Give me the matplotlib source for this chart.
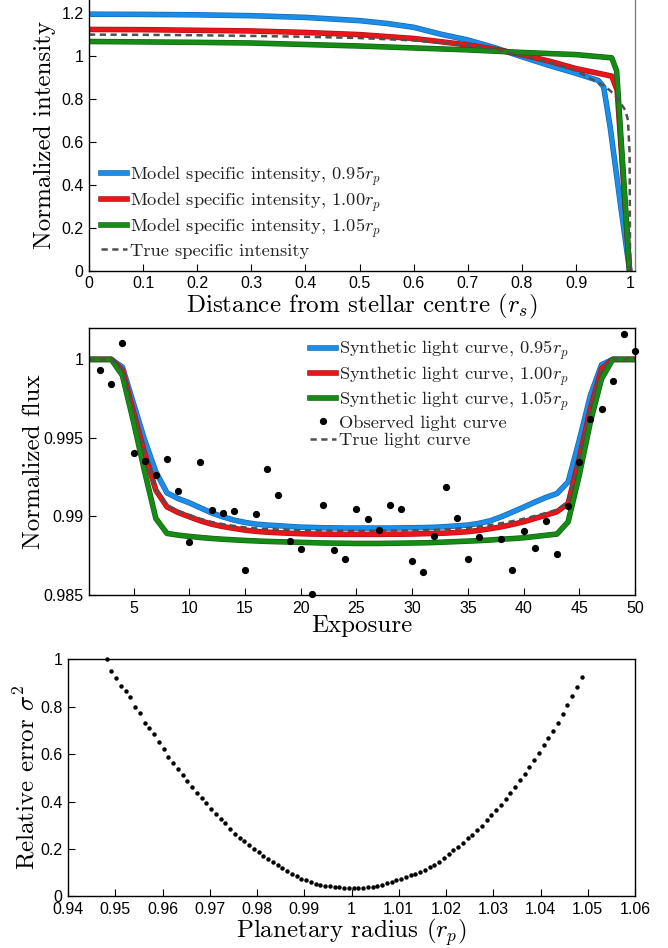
from __future__ import annotations

import matplotlib

matplotlib.use("Agg")
import matplotlib.patheffects as pe
import matplotlib.pyplot as plt
import numpy as np
from matplotlib.ticker import FuncFormatter

# --- panel 1: specific intensity profiles
blue_r = [0, 0.1, 0.2, 0.3, 0.4, 0.5, 0.55, 0.6, 0.65, 0.7, 0.75, 0.8, 0.85, 0.9, 0.941, 0.951, 0.963, 0.981, 0.999]
blue_i = [1.193, 1.192, 1.19, 1.186, 1.178, 1.163, 1.15, 1.132, 1.10, 1.073, 1.037, 0.995, 0.955, 0.918, 0.885, 0.855, 0.67, 0.33, 0.0]
red_r = [0, 0.1, 0.2, 0.3, 0.4, 0.5, 0.6, 0.7, 0.75, 0.8, 0.85, 0.9, 0.966, 0.976, 0.999]
red_i = [1.122, 1.121, 1.118, 1.115, 1.108, 1.098, 1.08, 1.05, 1.03, 1.005, 0.975, 0.94, 0.905, 0.84, 0.0]
green_r = [0, 0.1, 0.2, 0.3, 0.4, 0.5, 0.6, 0.7, 0.8, 0.9, 0.966, 0.975, 0.999]
green_i = [1.066, 1.064, 1.062, 1.059, 1.052, 1.045, 1.036, 1.027, 1.015, 1.005, 0.99, 0.93, 0.0]
true_r = [0, 0.1, 0.2, 0.3, 0.4, 0.5, 0.6, 0.7, 0.75, 0.8, 0.85, 0.9, 0.954, 0.972, 0.991, 0.996, 0.999, 1.0]
true_i = [1.098, 1.097, 1.095, 1.092, 1.088, 1.082, 1.071, 1.048, 1.03, 1.0, 0.97, 0.93, 0.857, 0.817, 0.747, 0.70, 0.55, 0.0]

# --- panel 2: light curves
exposure = list(range(1, 51))
lc_095 = [1.0, 1.0, 1.0, 0.99951, 0.99718, 0.99485, 0.99284, 0.99150, 0.99114, 0.99087,
          0.99055, 0.99023, 0.98998, 0.98977, 0.98962, 0.98951, 0.98945, 0.98941, 0.98936, 0.98932,
          0.98930, 0.98928, 0.98927, 0.98926, 0.98926, 0.98926, 0.98926, 0.98926, 0.98927, 0.98928,
          0.98929, 0.98931, 0.98935, 0.98940, 0.98945, 0.98956, 0.98972, 0.98998, 0.99028, 0.99059,
          0.99091, 0.99121, 0.99146, 0.99220, 0.99485, 0.99771, 0.99966, 1.0, 1.0, 1.0]
lc_100 = [1.0, 1.0, 1.0, 0.99930, 0.99665, 0.99400, 0.99167, 0.99061, 0.99025, 0.98998,
          0.98972, 0.98951, 0.98936, 0.98924, 0.98913, 0.98905, 0.98900, 0.98896, 0.98893, 0.98890,
          0.98888, 0.98887, 0.98886, 0.98886, 0.98886, 0.98886, 0.98886, 0.98887, 0.98887, 0.98888,
          0.98890, 0.98892, 0.98894, 0.98898, 0.98903, 0.98911, 0.98922, 0.98934, 0.98949, 0.98966,
          0.98987, 0.99008, 0.99030, 0.99083, 0.99369, 0.99686, 0.99941, 1.0, 1.0, 1.0]
lc_105 = [1.0, 1.0, 1.0, 0.99898, 0.99602, 0.99284, 0.98987, 0.98892, 0.98881, 0.98873,
          0.98866, 0.98860, 0.98855, 0.98851, 0.98847, 0.98844, 0.98841, 0.98839, 0.98837, 0.98835,
          0.98833, 0.98831, 0.98830, 0.98829, 0.98828, 0.98828, 0.98828, 0.98829, 0.98830, 0.98831,
          0.98832, 0.98834, 0.98837, 0.98840, 0.98843, 0.98846, 0.98850, 0.98855, 0.98859, 0.98864,
          0.98872, 0.98880, 0.98888, 0.98966, 0.99263, 0.99602, 0.99877, 1.0, 1.0, 1.0]
lc_true = [1.0, 1.0, 1.0, 0.99932, 0.99670, 0.99405, 0.99172, 0.99072, 0.99036, 0.99010,
           0.98985, 0.98965, 0.98951, 0.98940, 0.98930, 0.98924, 0.98920, 0.98917, 0.98914, 0.98912,
           0.98911, 0.98910, 0.98909, 0.98909, 0.98909, 0.98909, 0.98909, 0.98910, 0.98910, 0.98911,
           0.98913, 0.98915, 0.98918, 0.98922, 0.98927, 0.98935, 0.98945, 0.98957, 0.98970, 0.98985,
           0.99003, 0.99022, 0.99043, 0.99095, 0.99378, 0.99692, 0.99943, 1.0, 1.0, 1.0]
obs_exposure = [2, 3, 4, 5, 6, 7, 8, 9, 10, 11, 12, 13, 14, 15, 16, 17, 18, 19, 20, 21, 22, 23, 24, 25,
                26, 27, 28, 29, 30, 31, 32, 33, 34, 35, 36, 38, 39, 40, 41, 42, 43, 44, 45, 46, 47, 48, 49, 50]
obs_flux = [0.99934, 0.99841, 1.00102, 0.99407, 0.99354, 0.99263, 0.99369, 0.99165, 0.98839, 0.99347,
            0.99042, 0.99021, 0.99036, 0.98659, 0.99013, 0.99299, 0.99138, 0.98843, 0.98794, 0.98508,
            0.99076, 0.98786, 0.98727, 0.99049, 0.98981, 0.98913, 0.99070, 0.99049, 0.98718, 0.98648,
            0.98875, 0.99189, 0.98987, 0.98727, 0.98867, 0.98856, 0.98659, 0.98909, 0.98801, 0.98970,
            0.98758, 0.99066, 0.99345, 0.99619, 0.99684, 0.99864, 1.00159, 1.00053]

# --- panel 3: relative error vs planetary radius
radius = np.linspace(0.9482, 1.0487, 101)
rel_error = [1.0, 0.952, 0.923, 0.887, 0.868, 0.841, 0.8, 0.772, 0.732, 0.711,
             0.683, 0.652, 0.621, 0.587, 0.561, 0.539, 0.511, 0.486, 0.463, 0.438,
             0.414, 0.392, 0.370, 0.346, 0.327, 0.310, 0.285, 0.265, 0.248, 0.234,
             0.218, 0.201, 0.186, 0.172, 0.156, 0.145, 0.132, 0.118, 0.106, 0.096,
             0.085, 0.073, 0.068, 0.059, 0.054, 0.048, 0.045, 0.044, 0.038, 0.038,
             0.037, 0.035, 0.035, 0.035, 0.035, 0.038, 0.041, 0.045, 0.049, 0.056,
             0.062, 0.068, 0.075, 0.082, 0.089, 0.096, 0.103, 0.113, 0.123, 0.134,
             0.145, 0.163, 0.180, 0.197, 0.208, 0.225, 0.245, 0.261, 0.279, 0.299,
             0.321, 0.342, 0.363, 0.387, 0.411, 0.437, 0.462, 0.490, 0.518, 0.546,
             0.577, 0.606, 0.637, 0.669, 0.699, 0.732, 0.769, 0.807, 0.845, 0.885, 0.924]

BLUE, RED, GREEN = "#1c8ee8", "#e8161b", "#168c16"
EDGE = {BLUE: "#1667ad", RED: "#b01014", GREEN: "#0f640f"}
GREY = "#505050"
SERIF = "cmr10"
LABEL_SIZE = 18
LEGEND_PROP = {"family": SERIF, "size": 13.3}

plt.rcParams["font.family"] = ["Liberation Sans", "DejaVu Sans"]
plt.rcParams["mathtext.fontset"] = "cm"
plt.rcParams["axes.unicode_minus"] = False


def style_axes(ax):
    ax.tick_params(direction="in", length=5, width=0.8, labelsize=11.5, top=False, right=False, pad=4)
    for side in ["left", "bottom", "right", "top"]:
        ax.spines[side].set_linewidth(1.0)
    ax.xaxis.set_major_formatter(FuncFormatter(lambda v, _: f"{v:g}"))
    ax.yaxis.set_major_formatter(FuncFormatter(lambda v, _: f"{v:g}"))


def thick_line(ax, x, y, color, label):
    ax.plot(x, y, color=color, lw=3.0, label=label, solid_joinstyle="round",
            path_effects=[pe.Stroke(linewidth=4.0, foreground=EDGE[color]), pe.Normal()])


def main() -> None:
    fig = plt.figure(figsize=(6.68, 9.48), dpi=100)

    # top panel
    ax1 = fig.add_axes([0.1332, 0.7145, 0.8174, 0.2855])
    thick_line(ax1, blue_r, blue_i, BLUE, r"Model specific intensity, 0.95$r_p$")
    thick_line(ax1, red_r, red_i, RED, r"Model specific intensity, 1.00$r_p$")
    thick_line(ax1, green_r, green_i, GREEN, r"Model specific intensity, 1.05$r_p$")
    ax1.plot(true_r, true_i, color=GREY, lw=1.8, ls=(0, (2.5, 1.8)), label="True specific intensity")
    ax1.set_xlim(0, 1.009)
    ax1.set_ylim(0, 1.259)
    ax1.set_xticks(np.arange(0, 1.01, 0.1))
    ax1.set_yticks(np.arange(0, 1.21, 0.2))
    style_axes(ax1)
    ax1.spines["top"].set_visible(False)
    ax1.spines["right"].set_color("#808080")
    ax1.set_xlabel(r"Distance from stellar centre ($r_s$)", fontsize=LABEL_SIZE, family=SERIF)
    ax1.set_ylabel("Normalized intensity", fontsize=LABEL_SIZE, family=SERIF)
    ax1.xaxis.set_label_coords(0.5, -0.078)
    ax1.yaxis.set_label_coords(-0.06, 0.5)
    ax1.legend(loc="lower left", bbox_to_anchor=(0.0, 0.0), frameon=False, prop=LEGEND_PROP,
               handlelength=1.4, handletextpad=0.15, labelspacing=0.15, borderaxespad=0.25,
               labelcolor="#222222")

    # middle panel
    ax2 = fig.add_axes([0.1332, 0.3724, 0.8174, 0.2816])
    thick_line(ax2, exposure, lc_095, BLUE, r"Synthetic light curve, 0.95$r_p$")
    thick_line(ax2, exposure, lc_100, RED, r"Synthetic light curve, 1.00$r_p$")
    thick_line(ax2, exposure, lc_105, GREEN, r"Synthetic light curve, 1.05$r_p$")
    ax2.plot(obs_exposure, obs_flux, "o", color="black", ms=4.2, label="Observed light curve",
             clip_on=False, zorder=5)
    ax2.plot(exposure, lc_true, color=GREY, lw=1.8, ls=(0, (2.5, 1.8)), label="True light curve")
    ax2.set_xlim(1, 50)
    ax2.set_ylim(0.985, 1.002)
    ax2.set_xticks(np.arange(5, 51, 5))
    ax2.set_yticks([0.985, 0.99, 0.995, 1.0])
    style_axes(ax2)
    ax2.set_xlabel("Exposure", fontsize=LABEL_SIZE, family=SERIF)
    ax2.set_ylabel("Normalized flux", fontsize=LABEL_SIZE, family=SERIF)
    ax2.xaxis.set_label_coords(0.5, -0.076)
    ax2.yaxis.set_label_coords(-0.08, 0.5)
    ax2.legend(loc="upper left", bbox_to_anchor=(0.385, 1.0), frameon=False, prop=LEGEND_PROP,
               handlelength=1.4, handletextpad=0.15, labelspacing=0.1, borderaxespad=0.2,
               labelcolor="#222222")

    # bottom panel
    ax3 = fig.add_axes([0.1018, 0.0544, 0.8488, 0.2501])
    ax3.plot(radius, rel_error, "o", color="black", ms=2.2, clip_on=False)
    ax3.set_xlim(0.94, 1.06)
    ax3.set_ylim(0, 1)
    ax3.set_xticks(np.arange(0.94, 1.0601, 0.01))
    ax3.set_yticks(np.arange(0, 1.01, 0.2))
    style_axes(ax3)
    ax3.set_xlabel(r"Planetary radius ($r_p$)", fontsize=LABEL_SIZE, family=SERIF)
    ax3.set_ylabel(r"Relative error $\sigma^2$", fontsize=LABEL_SIZE, family=SERIF)
    ax3.xaxis.set_label_coords(0.5, -0.085)
    ax3.yaxis.set_label_coords(-0.05, 0.5)

    fig.savefig("out.png", dpi=100)
    plt.close(fig)


if __name__ == "__main__":
    main()
